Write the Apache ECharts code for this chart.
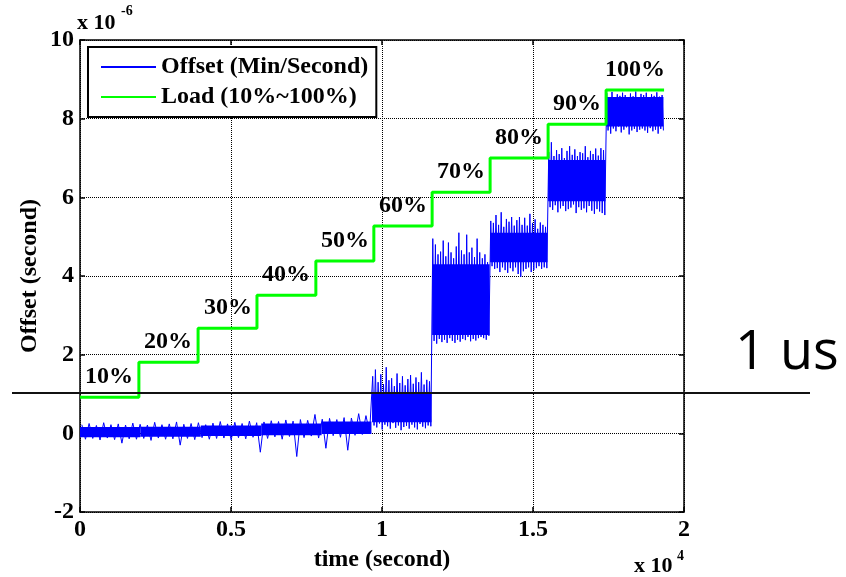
<!DOCTYPE html>
<html><head><meta charset="utf-8">
<script src="https://cdn.jsdelivr.net/npm/echarts@6/dist/echarts.min.js"></script>
<style>html,body{margin:0;padding:0;background:#fff}#c{width:846px;height:577px}</style>
</head><body><div id="c"></div>
<script>
// x in units of 1e4 seconds, y in units of 1e-6 seconds
const xTicks = [0, 0.5, 1, 1.5, 2];
const yTicks = [-2, 0, 2, 4, 6, 8, 10];

const loadLabels = ['10%','20%','30%','40%','50%','60%','70%','80%','90%','100%'];
const loadStart  = [0, 0.195, 0.391, 0.586, 0.781, 0.973, 1.166, 1.358, 1.550, 1.742];
const loadEnd    = 1.934;
const loadLevel  = [0.92, 1.81, 2.67, 3.51, 4.38, 5.27, 6.13, 7.00, 7.86, 8.73];

// offset samples (alternating peaks / troughs) per load segment
const offsetSegStart = [0, 0.967, 1.166, 1.358, 1.550, 1.742];
const offsetSegEnd   = [0.965, 1.164, 1.356, 1.548, 1.740, 1.934];
const offsetSeg1 = [0.22,-0.15,0.25,-0.13,0.20,-0.17,0.27,-0.12,0.22,-0.16,0.24,-0.25,0.21,-0.14,0.26,-0.15,
  0.23,-0.13,0.21,-0.18,0.28,-0.12,0.22,-0.15,0.24,-0.14,0.29,-0.30,0.23,-0.13,0.25,-0.16,0.27,-0.11,0.22,-0.15,
  0.26,-0.13,0.30,-0.12,0.24,-0.17,0.28,-0.11,0.25,-0.14,0.31,-0.10,0.27,-0.48,0.29,-0.13,0.32,-0.09,0.30,-0.15,
  0.34,-0.08,0.31,-0.59,0.35,-0.11,0.33,-0.07,0.48,-0.12,0.36,-0.38,0.38,-0.06,0.35,-0.10,0.40,-0.43,0.39,-0.05,
  0.50,-0.03,0.45,0.02];
const offsetSeg2 = [1.45,0.20,1.62,0.15,1.30,0.25,1.50,0.10,1.25,0.22,1.68,0.18,1.35,0.12,1.40,0.26,1.20,0.14,
  1.52,0.20,1.28,0.08,1.45,0.16,1.22,0.19,1.38,0.12,1.48,0.22,1.26,0.15,1.42,0.10,1.30,0.24,1.55,0.17,1.24,0.13,
  1.36,0.20,1.32,0.18];
const offsetSeg3 = [4.95,2.35,4.80,2.28,4.55,2.40,4.62,2.32,4.90,2.38,4.50,2.30,4.85,2.42,4.60,2.35,4.45,2.30,
  4.75,2.38,5.10,2.33,4.65,2.40,4.55,2.37,5.05,2.45,4.60,2.34,4.72,2.40,4.48,2.36,4.95,2.42,4.60,2.45,4.45,2.42,
  4.55,2.38,4.35,2.48];
const offsetSeg4 = [5.40,4.25,5.35,4.18,5.55,4.20,5.30,4.10,5.62,4.22,5.25,4.15,5.45,4.08,5.38,4.20,5.50,4.12,
  5.28,4.22,5.42,4.05,5.50,3.98,5.30,4.12,5.48,4.18,5.28,4.22,5.58,4.10,5.35,4.15,5.44,4.20,5.20,4.25,5.36,4.18,
  5.30,4.22,5.25,4.20];
const offsetSeg5 = [7.15,5.75,7.40,5.68,7.05,5.80,7.20,5.62,7.10,5.72,7.25,5.78,7.00,5.65,7.18,5.70,7.30,5.74,
  7.08,5.82,7.22,5.60,7.05,5.75,7.15,5.68,7.12,5.72,7.30,5.62,7.02,5.78,7.18,5.66,7.10,5.58,7.24,5.70,7.06,5.64,
  7.25,5.60,7.20,5.55];
const offsetSeg6 = [8.65,7.70,8.55,7.62,8.68,7.75,8.50,7.68,8.62,7.80,8.58,7.65,8.66,7.72,8.60,7.78,8.52,7.60,
  8.64,7.70,8.57,7.74,8.69,7.66,8.55,7.72,8.63,7.75,8.60,7.70,8.66,7.64,8.54,7.76,8.62,7.68,8.58,7.72,8.67,7.62,
  8.56,7.74,8.60,7.70];
const offsetSegs = [offsetSeg1, offsetSeg2, offsetSeg3, offsetSeg4, offsetSeg5, offsetSeg6];

// dense noise core of the offset trace
const coreStart = [0.000, 0.200, 0.400, 0.600, 0.800, 0.967, 1.166, 1.358, 1.550, 1.742];
const coreEnd   = [0.200, 0.400, 0.600, 0.800, 0.965, 1.164, 1.356, 1.548, 1.740, 1.932];
const coreLo    = [-0.10, -0.09, -0.07, -0.05, -0.02, 0.28, 2.50, 4.35, 5.90, 7.80];
const coreHi    = [0.16, 0.17, 0.20, 0.25, 0.30, 1.05, 4.30, 5.10, 6.95, 8.55];

const FONT = 'Liberation Serif';
const FS = 24;

const offsetData = [];
offsetSegs.forEach((vals, s) => {
  const a = offsetSegStart[s], b = offsetSegEnd[s], n = vals.length;
  vals.forEach((v, i) => offsetData.push([a + (b - a) * (i + 0.5) / n, v]));
});
const loadData = loadStart.map((x, i) => [x, loadLevel[i]]);
loadData.push([loadEnd, loadLevel[loadLevel.length - 1]]);
const labelData = loadStart.map((x, i) => {
  const e = i + 1 < loadStart.length ? loadStart[i + 1] : loadEnd;
  return [(x + e) / 2, loadLevel[i], i];
});
const coreData = coreStart.map((s, i) => [s, coreEnd[i], coreLo[i], coreHi[i]]);

const axisCommon = {
  type: 'value',
  axisLine: {show: true, onZero: false, lineStyle: {color: '#000', width: 1.5}},
  axisTick: {show: true, inside: true, length: 5, lineStyle: {color: '#000', width: 1.5}},
};
const txt = {color: '#000', fontFamily: FONT, fontWeight: 'bold', fontSize: FS};
const small = (s) => ({color: '#000', fontFamily: FONT, fontWeight: 900, fontSize: s, lineHeight: s + 1});

const chart = echarts.init(document.getElementById('c'), null, {renderer: 'canvas'});
chart.setOption({
  animation: false,
  backgroundColor: '#fff',
  title: [
    {text: 'x 10', left: 77, top: 12, padding: 0, textStyle: small(22)},
    {text: '-6', left: 121, top: 4, padding: 0, textStyle: small(14)},
    {text: 'x 10', left: 634, top: 555, padding: 0, textStyle: small(22)},
    {text: '4', left: 677, top: 549, padding: 0, textStyle: small(14)}
  ],
  grid: {left: 80, right: 162, top: 40, bottom: 65, containLabel: false, outerBoundsMode: 'none'},
  xAxis: [
    Object.assign({}, axisCommon, {
      min: xTicks[0], max: xTicks[xTicks.length - 1], interval: 0.5,
      axisLabel: Object.assign({margin: 6, formatter: v => String(v)}, txt),
      splitLine: {show: true, lineStyle: {color: '#000', type: [1, 1], width: 1}},
      name: 'time (second)', nameLocation: 'middle', nameGap: 36, nameMoveOverlap: false,
      nameTextStyle: txt
    }),
    Object.assign({}, axisCommon, {
      position: 'top', min: xTicks[0], max: xTicks[xTicks.length - 1], interval: 0.5,
      axisLabel: {show: false}, splitLine: {show: false}
    })
  ],
  yAxis: [
    Object.assign({}, axisCommon, {
      min: yTicks[0], max: yTicks[yTicks.length - 1], interval: 2,
      axisLabel: Object.assign({margin: 6}, txt),
      splitLine: {show: true, lineStyle: {color: '#000', type: [1, 1], width: 1}},
      name: 'Offset (second)', nameLocation: 'middle', nameGap: 38, nameMoveOverlap: false,
      nameTextStyle: txt
    }),
    Object.assign({}, axisCommon, {
      position: 'right', min: yTicks[0], max: yTicks[yTicks.length - 1], interval: 2,
      axisLabel: {show: false}, splitLine: {show: false}
    })
  ],
  legend: {
    data: ['Offset (Min/Second)', 'Load (10%~100%)'],
    orient: 'vertical', left: 88, top: 47,
    padding: [8, 8, 8, 12], itemGap: 6, itemWidth: 55, itemHeight: 14,
    itemStyle: {opacity: 0},
    backgroundColor: '#fff', borderColor: '#000', borderWidth: 2, borderRadius: 0,
    textStyle: Object.assign({lineHeight: 22}, txt)
  },
  series: [
    {
      type: 'custom', name: 'core', z: 2, silent: true,
      data: coreData, encode: {x: [0, 1], y: [2, 3]},
      renderItem: (params, api) => {
        const p1 = api.coord([api.value(0), api.value(3)]);
        const p2 = api.coord([api.value(1), api.value(2)]);
        return {type: 'rect', shape: {x: p1[0], y: p1[1], width: p2[0] - p1[0], height: p2[1] - p1[1]},
          style: {fill: '#0000ff'}};
      }
    },
    {
      type: 'line', name: 'Offset (Min/Second)', z: 3, data: offsetData,
      symbol: 'none', lineStyle: {color: '#0000ff', width: 1}, itemStyle: {color: '#0000ff'}
    },
    {
      type: 'line', name: 'Load (10%~100%)', z: 4, data: loadData, step: 'end',
      symbol: 'none', lineStyle: {color: '#00ff00', width: 3}, itemStyle: {color: '#00ff00'}
    },
    {
      type: 'custom', name: 'labels', z: 5, silent: true,
      data: labelData, encode: {x: 0, y: 1},
      renderItem: (params, api) => {
        const p = api.coord([api.value(0), api.value(1)]);
        return {type: 'text', x: Math.round(p[0]), y: Math.round(p[1]) - 8,
          style: {text: loadLabels[api.value(2)], fill: '#000', fontFamily: FONT, fontWeight: 'bold',
            fontSize: FS, lineHeight: 24, align: 'center', verticalAlign: 'bottom'}};
      }
    }
  ],
  graphic: [
    {type: 'line', z: 20, shape: {x1: 12, y1: 393, x2: 810, y2: 393},
      style: {stroke: '#111', lineWidth: 2}},
    {type: 'text', x: 735, y: 324, z: 20,
      style: {text: '1 us', fill: '#000', fontSize: 54, lineHeight: 60, fontFamily: 'Open Sans'}}
  ]
});
</script></body></html>
